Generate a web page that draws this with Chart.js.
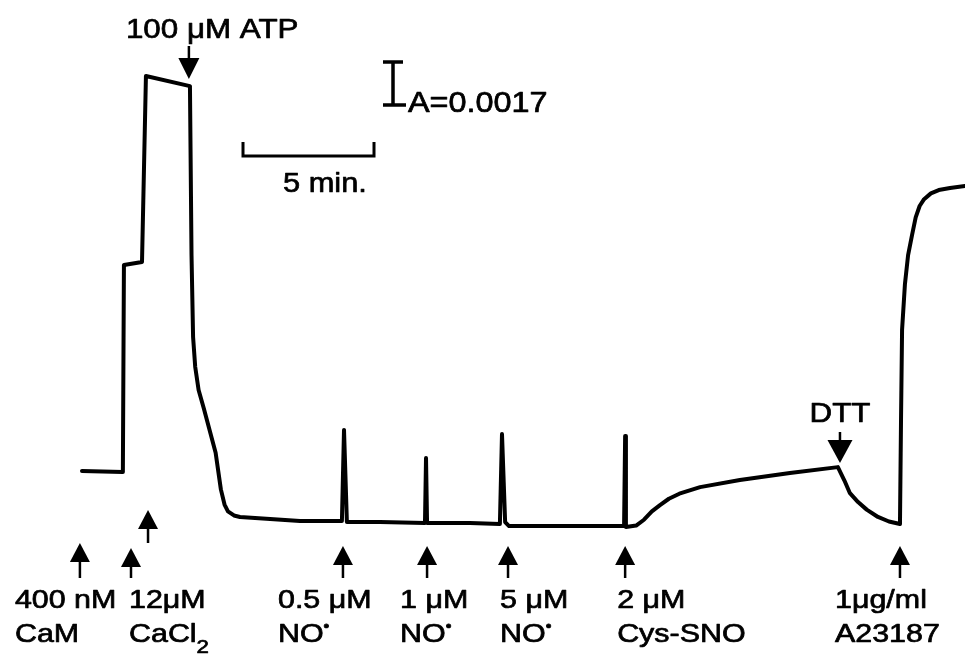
<!DOCTYPE html>
<html>
<head>
<meta charset="utf-8">
<script src="https://cdn.jsdelivr.net/npm/chart.js@4.4.1/dist/chart.umd.min.js"></script>
<style>
html,body{margin:0;padding:0;background:#fff;}
#wrap{width:965px;height:655px;}
</style>
</head>
<body>
<div id="wrap"><canvas id="c" width="965" height="655"></canvas></div>
<script>
// ---- data (time in minutes, absorbance change in mA = 0.001 A) ----
const times = [0, 1.56, 1.60, 2.29, 2.44, 4.12, 4.18, 4.24, 4.32, 4.45, 4.65, 5.10, 5.30, 5.44, 5.57, 5.80, 6.03, 7.18, 8.32,
  9.92, 10.00, 10.11, 11.37, 13.09, 13.13, 13.17, 14.81, 15.95, 16.03, 16.15, 16.30, 18.24,
  20.69, 20.73, 20.76, 21.15, 21.45, 21.75, 22.06, 22.40, 22.80, 23.59, 25.11, 27.02, 28.85, 29.10, 29.31, 29.62, 29.95,
  30.38, 30.80, 31.22, 31.26, 31.30, 31.41, 31.53, 31.68, 31.82, 31.97, 32.14, 32.40, 32.70, 33.13, 33.70];
const deltaA = [1.98, 1.94, 10.12, 10.24, 17.59, 17.19, 10.50, 7.27, 6.10, 5.18, 4.45, 2.70, 1.25, 0.65, 0.38, 0.22, 0.16, 0.08, 0,
  0, 3.60, -0.04, -0.04, -0.08, 2.49, -0.08, -0.08, -0.12, 3.44, -0.04, -0.20, -0.20,
  -0.20, 3.36, -0.24, -0.18, 0.05, 0.38, 0.63, 0.88, 1.08, 1.34, 1.62, 1.90, 2.13, 1.60, 1.10, 0.75, 0.45,
  0.16, -0.02, -0.12, 3.99, 7.55, 9.37, 10.51, 11.30, 12.00, 12.45, 12.72, 12.95, 13.08, 13.16, 13.24];

const additionTimes = [-0.08, 1.87, 2.52, 9.96, 13.17, 16.26, 20.73, 31.22];
const additionLabels = ['400 nM\nCaM', '12μM\nCaCl₂', '', '0.5 μM\nNO•', '1 μM\nNO•', '5 μM\nNO•', '2 μM\nCys-SNO', '1μg/ml\nA23187'];
const topAdditionTimes = [4.08, 28.93];
const topAdditionLabels = ['100 μM ATP', 'DTT'];
const scaleBarMinutes = 5;
const scaleBarMilliA = 1.7;
const scaleBarLabels = ['5 min.', 'A=0.0017'];
</script>
<script>
const FONT = '"Liberation Sans", Arial, sans-serif';

function stretchedText(ctx, txt, x, y, size, sx, align) {
  const segs = [];
  let buf = '';
  for (const ch of txt) {
    if (ch === '₂' || ch === '•') { if (buf) segs.push({t: buf, k: 'n'}); buf=''; segs.push({t: ch === '₂' ? '2' : '•', k: ch === '₂' ? 'sub' : 'sup'}); }
    else buf += ch;
  }
  if (buf) segs.push({t: buf, k: 'n'});
  const fontFor = k => (k === 'n' ? size : (k === 'sub' ? Math.round(size * 0.72) : Math.round(size * 0.55))) + 'px ' + FONT;
  let total = 0;
  segs.forEach(s => { ctx.font = fontFor(s.k); s.w = ctx.measureText(s.t).width * sx; total += s.w; });
  let cx = align === 'center' ? x - total / 2 : x;
  segs.forEach(s => {
    ctx.save();
    ctx.font = fontFor(s.k);
    let dy = 0, dx = 0;
    if (s.k === 'sub') dy = size * 0.42;
    if (s.k === 'sup') { dy = -size * 0.42; dx = 0; }
    ctx.translate(cx + dx, y + dy);
    ctx.scale(sx, 1);
    ctx.textAlign = 'left';
    ctx.textBaseline = 'alphabetic';
    ctx.lineWidth = 0.7;
    ctx.lineJoin = 'round';
    ctx.fillText(s.t, 0, 0);
    ctx.strokeText(s.t, 0, 0);
    ctx.restore();
    cx += s.w;
  });
  return total;
}

function upArrow(ctx, x, tip, headH, headW, bottom) {
  ctx.beginPath();
  ctx.moveTo(x, tip);
  ctx.lineTo(x - headW / 2, tip + headH);
  ctx.lineTo(x + headW / 2, tip + headH);
  ctx.closePath();
  ctx.fill();
  ctx.lineWidth = 2.5;
  ctx.beginPath();
  ctx.moveTo(x, tip + headH - 1);
  ctx.lineTo(x, bottom);
  ctx.stroke();
}
function downArrow(ctx, x, tip, headH, headW, top) {
  ctx.beginPath();
  ctx.moveTo(x, tip);
  ctx.lineTo(x - headW / 2, tip - headH);
  ctx.lineTo(x + headW / 2, tip - headH);
  ctx.closePath();
  ctx.fill();
  ctx.lineWidth = 2.5;
  ctx.beginPath();
  ctx.moveTo(x, tip - headH + 1);
  ctx.lineTo(x, top);
  ctx.stroke();
}

// layout (pixels) for annotation placement
const upLayout = [
  {tip: 543, bottom: 578, dx: -65},
  {tip: 548, bottom: 578, dx: -2},
  {tip: 510, bottom: 543, dx: 0},
  {tip: 546, bottom: 578, dx: -65},
  {tip: 546, bottom: 578, dx: -27},
  {tip: 546, bottom: 578, dx: -8},
  {tip: 546, bottom: 578, dx: -8},
  {tip: 546, bottom: 578, dx: -65}
];
const downLayout = [
  {tip: 79, headH: 21, headW: 21, top: 46, textX: -63, textY: 38, align: 'left'},
  {tip: 463, headH: 23, headW: 25, top: 432, textX: 0, textY: 422, align: 'center'}
];

const annot = {
  id: 'annot',
  afterDraw(chart) {
    const ctx = chart.ctx;
    const X = v => chart.scales.x.getPixelForValue(v);
    const Y = v => chart.scales.y.getPixelForValue(v);
    ctx.save();
    ctx.fillStyle = '#000';
    ctx.strokeStyle = '#000';
    additionTimes.forEach((t, i) => {
      const L = upLayout[i];
      const px = X(t);
      upArrow(ctx, px, L.tip, 19, 20, L.bottom);
      if (additionLabels[i]) {
        const lines = additionLabels[i].split('\n');
        stretchedText(ctx, lines[0], px + L.dx, 608, 26, 1.17, 'left');
        stretchedText(ctx, lines[1], px + L.dx, 642, 26, 1.17, 'left');
      }
    });
    topAdditionTimes.forEach((t, i) => {
      const L = downLayout[i];
      const px = X(t);
      downArrow(ctx, px, L.tip, L.headH, L.headW, L.top);
      stretchedText(ctx, topAdditionLabels[i], px + L.textX, L.textY, 28, 1.12, L.align);
    });
    const t0 = 6.145, yb = 14.43;
    const x0 = X(t0), x1 = X(t0 + scaleBarMinutes), yp = Y(yb);
    ctx.lineWidth = 3;
    ctx.lineCap = 'butt';
    ctx.beginPath();
    ctx.moveTo(x0, yp - 14);
    ctx.lineTo(x0, yp);
    ctx.lineTo(x1, yp);
    ctx.lineTo(x1, yp - 14);
    ctx.stroke();
    stretchedText(ctx, scaleBarLabels[0], x0 + 40, yp + 36, 28, 1.1, 'left');
    const tb = 11.87, ab = 16.44;
    const bx = X(tb), by0 = Y(ab), by1 = Y(ab + scaleBarMilliA);
    ctx.lineWidth = 3.5;
    ctx.beginPath();
    ctx.moveTo(bx, by0); ctx.lineTo(bx, by1);
    ctx.moveTo(bx - 10, by1); ctx.lineTo(bx + 10, by1);
    ctx.moveTo(bx - 10, by0); ctx.lineTo(bx + 13, by0);
    ctx.stroke();
    stretchedText(ctx, scaleBarLabels[1], bx + 15, by0 + 7, 30, 1.08, 'left');
    ctx.restore();
  }
};

new Chart(document.getElementById('c'), {
  type: 'line',
  data: {
    datasets: [{
      data: times.map((t, i) => ({x: t, y: deltaA[i]})),
      borderColor: '#000',
      borderWidth: 4,
      pointRadius: 0,
      tension: 0,
      fill: false,
      borderJoinStyle: 'round',
      borderCapStyle: 'round'
    }]
  },
  options: {
    responsive: false,
    devicePixelRatio: 1,
    animation: false,
    layout: {padding: 0},
    plugins: {legend: {display: false}, tooltip: {enabled: false}, title: {display: false}},
    scales: {
      x: {type: 'linear', display: false, min: -3.130, max: 33.702},
      y: {type: 'linear', display: false, min: -5.296, max: 20.593}
    }
  },
  plugins: [annot]
});
</script>
</body>
</html>
